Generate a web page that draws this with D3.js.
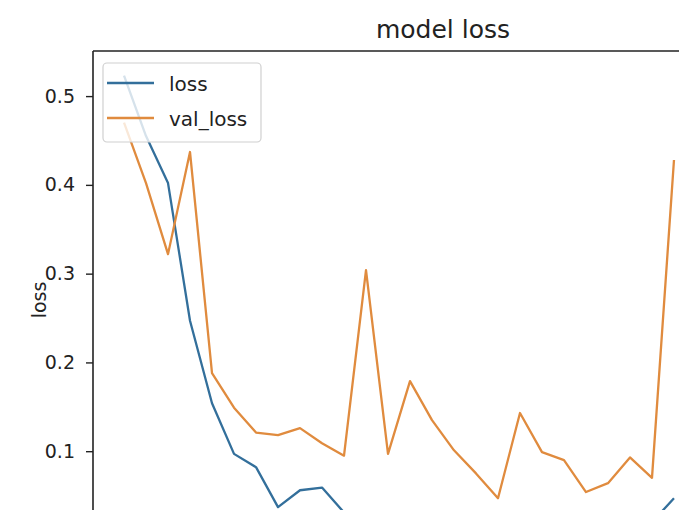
<!DOCTYPE html>
<html>
<head>
<meta charset="utf-8">
<script src="https://cdn.jsdelivr.net/npm/d3@7"></script>
<style>
  html, body { margin: 0; padding: 0; background: #fff; overflow: hidden; }
  svg { display: block; font-family: "DejaVu Sans", sans-serif; }
</style>
</head>
<body>
<svg id="chart" width="679" height="510"></svg>
<script>
// Training history, one value per epoch
const epochs = [0, 1, 2, 3, 4, 5, 6, 7, 8, 9, 10, 11, 12, 13, 14, 15, 16, 17, 18, 19, 20, 21, 22, 23, 24, 25];
const loss = [0.523, 0.455, 0.402, 0.247, 0.154, 0.097, 0.082, 0.037, 0.056, 0.059,
              0.031, 0.027, 0.024, 0.022, 0.020, 0.019, 0.018, 0.016, 0.017, 0.015,
              0.014, 0.013, 0.013, 0.012, 0.020, 0.047];
const valLoss = [0.470, 0.402, 0.322, 0.437, 0.188, 0.149, 0.121, 0.118, 0.126, 0.109,
                 0.095, 0.304, 0.097, 0.179, 0.135, 0.101, 0.075, 0.047, 0.143, 0.099,
                 0.090, 0.054, 0.064, 0.093, 0.070, 0.428];
const yTicks = [0.1, 0.2, 0.3, 0.4, 0.5];
const seriesNames = ["loss", "val_loss"];
const seriesColors = ["#336f9b", "#e08b3e"];

const svg = d3.select("#chart");

// Axes box (extends past the right and bottom edges of the view)
const box = { left: 93, top: 51, right: 793, bottom: 554 };

const x = d3.scaleLinear()
  .domain([-1.41, 30.41])
  .range([box.left, box.right]);
const y = d3.scaleLinear()
  .domain([-0.0158, 0.5508])
  .range([box.bottom, box.top]);

svg.append("defs").append("clipPath").attr("id", "plot-clip")
  .append("rect")
  .attr("x", box.left).attr("y", box.top)
  .attr("width", box.right - box.left).attr("height", box.bottom - box.top);

// Series lines
const line = d3.line()
  .x((d, i) => x(epochs[i]))
  .y(d => y(d));

const plot = svg.append("g").attr("clip-path", "url(#plot-clip)");
[loss, valLoss].forEach((vals, k) => {
  plot.append("path")
    .datum(vals)
    .attr("fill", "none")
    .attr("stroke", seriesColors[k])
    .attr("stroke-width", 2.3)
    .attr("stroke-linejoin", "round")
    .attr("d", line);
});

// Spines
svg.append("line")
  .attr("x1", box.left).attr("x2", box.left)
  .attr("y1", box.top).attr("y2", box.bottom)
  .attr("stroke", "#222").attr("stroke-width", 1.6);
svg.append("line")
  .attr("x1", box.left).attr("x2", box.right)
  .attr("y1", box.top).attr("y2", box.top)
  .attr("stroke", "#222").attr("stroke-width", 1.6);

// Y axis
const yAxis = d3.axisLeft(y)
  .tickValues(yTicks)
  .tickFormat(d3.format(".1f"))
  .tickSize(7)
  .tickPadding(11);
const gy = svg.append("g")
  .attr("transform", `translate(${box.left},0)`)
  .call(yAxis);
gy.select(".domain").remove();
gy.selectAll(".tick line").attr("stroke", "#222").attr("stroke-width", 1.4);
gy.selectAll(".tick text")
  .attr("fill", "#222")
  .style("font-size", "19px")
  .style("font-family", "'DejaVu Sans', sans-serif");

// Axis label
svg.append("text")
  .attr("transform", "translate(46,300) rotate(-90)")
  .attr("text-anchor", "middle")
  .attr("fill", "#222")
  .style("font-size", "19px")
  .text("loss");

// Title
svg.append("text")
  .attr("x", (box.left + box.right) / 2)
  .attr("y", 38)
  .attr("text-anchor", "middle")
  .attr("fill", "#222")
  .style("font-size", "25px")
  .text("model loss");

// Legend
const legend = svg.append("g");
legend.append("rect")
  .attr("x", 103).attr("y", 63)
  .attr("width", 158).attr("height", 79)
  .attr("rx", 4)
  .attr("fill", "#fff").attr("fill-opacity", 0.8)
  .attr("stroke", "#d0d0d0").attr("stroke-width", 1.2);
seriesNames.forEach((name, k) => {
  const cy = 83 + k * 35;
  legend.append("line")
    .attr("x1", 107).attr("x2", 154)
    .attr("y1", cy).attr("y2", cy)
    .attr("stroke", seriesColors[k])
    .attr("stroke-width", 2.3);
  legend.append("text")
    .attr("x", 169).attr("y", cy + 8)
    .attr("fill", "#222")
    .style("font-size", "20px")
    .text(name);
});
</script>
</body>
</html>
